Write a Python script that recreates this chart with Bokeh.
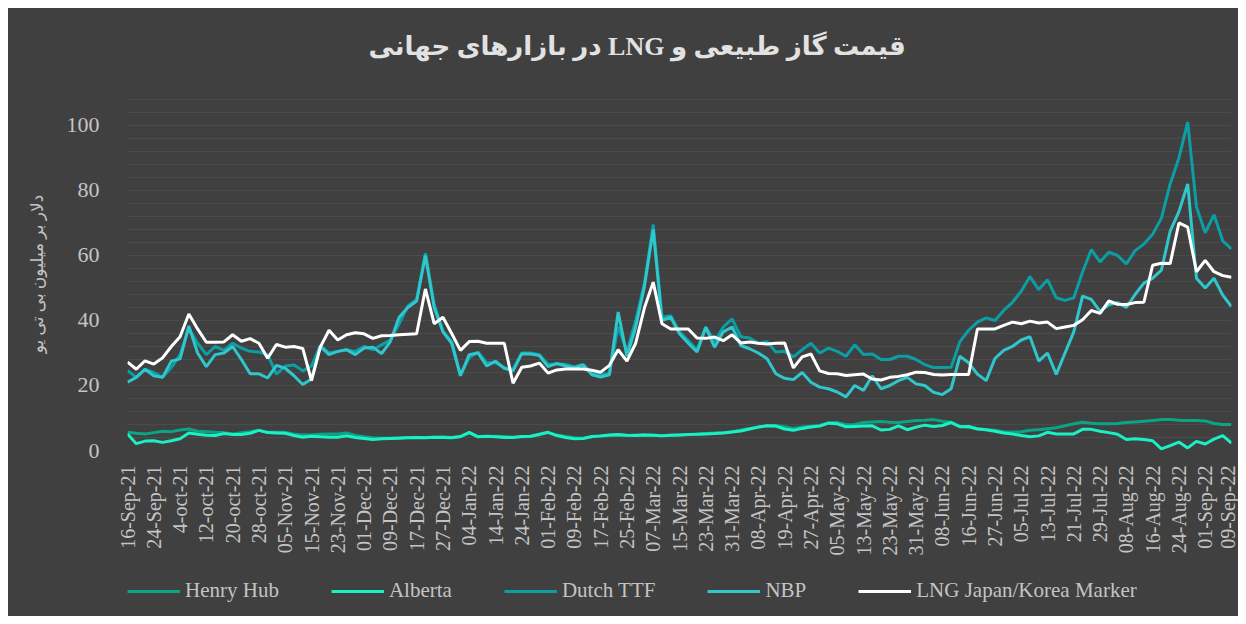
import math
from bokeh.plotting import figure
from bokeh.models import Range1d, FixedTicker, Legend, LegendItem, Title, Spacer
from bokeh.layouts import column, row
from bokeh.embed import file_html
from bokeh.resources import INLINE

# ---- data (one sample every 2 trading days; a tick label every 3 samples) ----
tick_labels = ["16-Sep-21", "24-Sep-21", "4-oct-21", "12-oct-21", "20-oct-21", "28-oct-21",
               "05-Nov-21", "15-Nov-21", "23-Nov-21", "01-Dec-21", "09-Dec-21", "17-Dec-21",
               "27-Dec-21", "04-Jan-22", "14-Jan-22", "24-Jan-22", "01-Feb-22", "09-Feb-22",
               "17-Feb-22", "25-Feb-22", "07-Mar-22", "15-Mar-22", "23-Mar-22", "31-Mar-22",
               "08-Apr-22", "19-Apr-22", "27-Apr-22", "05-May-22", "13-May-22", "23-May-22",
               "31-May-22", "08-Jun-22", "16-Jun-22", "27-Jun-22", "05-Jul-22", "13-Jul-22",
               "21-Jul-22", "29-Jul-22", "08-Aug-22", "16-Aug-22", "24-Aug-22", "01-Sep-22",
               "09-Sep-22"]

henry_hub = [5.6, 5.3, 5.1, 5.5, 5.9, 5.8, 6.3, 6.6, 5.9, 5.8, 5.6, 5.5, 5.1, 5.5, 5.8,
             6.2, 5.6, 5.6, 5.6, 5.0, 4.8, 4.8, 5.0, 5.1, 5.1, 5.4, 4.6, 4.2, 3.9, 3.8,
             3.8, 3.9, 4.0, 4.0, 4.0, 4.1, 4.2, 4.0, 4.2, 5.4, 4.3, 4.3, 4.4, 4.3, 4.1,
             4.2, 4.3, 4.8, 5.5, 4.8, 4.3, 3.9, 3.8, 4.2, 4.4, 4.6, 4.7, 4.6, 4.8, 4.8,
             4.7, 4.6, 4.7, 4.8, 4.9, 5.0, 5.2, 5.4, 5.5, 5.8, 6.3, 6.8, 7.2, 7.6, 7.7,
             7.3, 6.8, 7.2, 7.5, 7.8, 8.5, 8.6, 7.9, 8.0, 8.6, 8.8, 8.9, 8.7, 8.6, 8.9,
             9.2, 9.3, 9.5, 9.0, 8.7, 7.5, 7.2, 6.8, 6.4, 6.2, 5.8, 5.6, 5.8, 6.2, 6.4,
             6.7, 7.0, 7.6, 8.2, 8.7, 8.4, 8.2, 8.2, 8.3, 8.6, 8.8, 9.0, 9.2, 9.5, 9.5,
             9.3, 9.2, 9.2, 9.1, 8.3, 8.0, 8.0]

alberta = [5.1, 2.1, 2.9, 3.0, 2.5, 3.0, 3.6, 5.4, 5.0, 4.7, 4.6, 5.2, 4.9, 4.9, 5.3,
           6.2, 5.5, 5.4, 5.3, 4.6, 4.1, 4.4, 4.2, 4.1, 4.1, 4.5, 4.0, 3.7, 3.4, 3.6,
           3.7, 3.8, 3.9, 4.0, 3.9, 4.1, 4.0, 3.9, 4.3, 5.6, 4.2, 4.4, 4.2, 4.0, 4.0,
           4.3, 4.4, 5.0, 5.6, 4.6, 4.0, 3.6, 3.7, 4.3, 4.5, 4.8, 4.9, 4.7, 4.6, 4.8,
           4.7, 4.5, 4.7, 4.8, 4.9, 5.0, 5.1, 5.2, 5.4, 5.7, 6.0, 6.6, 7.2, 7.6, 7.5,
           6.6, 6.2, 6.8, 7.2, 7.5, 8.4, 8.2, 7.3, 7.4, 7.5, 7.6, 6.3, 6.5, 7.6, 6.4,
           7.2, 7.8, 7.4, 7.7, 8.6, 7.3, 7.4, 6.6, 6.4, 5.9, 5.4, 5.1, 4.6, 4.2, 4.5,
           5.6, 5.1, 5.1, 5.1, 6.5, 6.5, 5.9, 5.5, 5.0, 3.4, 3.6, 3.4, 3.0, 0.5, 1.5,
           2.6, 0.8, 2.8, 2.0, 3.5, 4.6, 2.3]

dutch_ttf = [24.6, 22.5, 25.0, 24.0, 22.5, 25.5, 29.5, 37.5, 33.0, 29.5, 32.0, 30.8,
             33.0, 31.5, 30.5, 30.3, 29.5, 23.5, 26.0, 26.3, 24.5, 26.0, 32.3, 30.0,
             30.5, 31.0, 30.5, 32.0, 31.0, 32.5, 34.0, 39.0, 44.5, 46.5, 60.7, 45.0,
             36.8, 33.5, 23.3, 28.5, 30.3, 27.0, 27.0, 25.5, 25.0, 30.0, 30.0, 29.5,
             26.5, 26.5, 26.5, 25.8, 26.5, 23.8, 23.4, 23.8, 38.0, 30.5, 40.0, 51.5,
             69.5, 41.0, 41.5, 36.5, 33.8, 31.0, 38.0, 33.5, 38.0, 40.5, 35.0, 34.6,
             33.0, 33.5, 30.3, 30.5, 28.8, 31.0, 33.0, 30.0, 31.5, 30.5, 29.0, 32.5,
             29.5, 29.7, 28.0, 28.0, 29.0, 29.0, 28.0, 26.4, 25.5, 25.5, 25.6, 33.5,
             37.0, 39.5, 40.8, 40.0, 43.1, 45.6, 49.0, 53.5, 49.5, 52.5, 47.0, 46.2,
             47.0, 54.9, 61.8, 58.0, 61.0, 60.0, 57.4, 61.5, 63.5, 66.5, 71.5, 82.0,
             90.0, 101.0, 75.0, 67.0, 72.5, 64.5, 62.0]

nbp = [21.0, 22.5, 25.0, 23.0, 22.5, 27.5, 28.2, 38.3, 30.0, 25.8, 29.5, 30.0,
       32.0, 28.0, 23.6, 23.6, 22.3, 26.2, 25.3, 23.0, 20.3, 22.0, 32.0, 29.5,
       30.5, 31.0, 29.5, 31.5, 31.8, 29.8, 33.5, 41.0, 44.0, 46.0, 60.0, 44.0,
       36.5, 33.0, 23.0, 29.5, 30.0, 26.0, 27.5, 25.3, 24.5, 29.8, 29.7, 29.2,
       25.8, 26.8, 26.0, 25.4, 26.3, 23.3, 22.6, 23.3, 42.6, 29.0, 38.0, 50.5,
       68.0, 40.0, 41.0, 35.9, 33.0, 30.3, 37.9, 31.8, 36.5, 38.0, 32.3, 31.3,
       30.0, 28.2, 23.6, 22.2, 21.8, 24.0, 21.0, 19.5, 19.0, 18.0, 16.5, 20.0,
       18.5, 23.0, 19.0, 20.0, 21.5, 22.5, 20.5, 20.0, 17.9, 17.2, 19.0, 29.0,
       27.0, 23.5, 21.5, 28.3, 30.8, 32.0, 34.0, 35.0, 27.5, 30.0, 23.4, 30.0,
       36.5, 47.5, 46.5, 42.8, 44.8, 45.5, 44.0, 48.0, 51.5, 53.0, 55.5, 67.5,
       73.5, 82.0, 53.0, 50.0, 53.0, 47.8, 44.3]

lng_jkm = [27.2, 25.0, 27.6, 26.6, 28.5, 32.0, 35.0, 42.0, 37.4, 33.3, 33.3, 33.4,
           35.6, 33.6, 34.4, 33.0, 28.4, 32.6, 31.8, 32.0, 31.4, 21.5, 31.8, 37.0,
           34.0, 35.6, 36.2, 35.9, 34.5, 35.3, 35.4, 35.6, 35.8, 35.9, 49.7, 39.0,
           41.0, 36.0, 30.8, 33.5, 33.6, 33.0, 33.0, 33.0, 20.7, 25.6, 26.0, 26.9,
           23.8, 24.8, 25.1, 25.1, 25.1, 24.7, 24.1, 26.2, 31.0, 27.5, 33.0, 43.9,
           51.8, 39.0, 37.4, 37.4, 37.4, 34.6, 34.5, 34.9, 33.8, 35.6, 33.1, 33.4,
           33.0, 32.8, 33.0, 33.1, 25.4, 28.8, 29.7, 24.5, 23.7, 23.6, 23.1, 23.3,
           23.5, 22.0, 21.7, 22.5, 22.8, 23.3, 24.1, 24.0, 23.4, 23.2, 23.4, 23.4,
           23.4, 37.4, 37.4, 37.4, 38.5, 39.5, 39.0, 39.8, 39.2, 39.5, 37.5, 38.0,
           38.5, 40.2, 43.1, 42.2, 46.0, 45.0, 44.9, 45.5, 45.6, 57.0, 57.6, 57.5,
           70.0, 68.7, 55.0, 58.5, 55.0, 53.8, 53.3]

series_names = ["Henry Hub", "Alberta", "Dutch TTF", "NBP", "LNG Japan/Korea Marker"]
series_values = [henry_hub, alberta, dutch_ttf, nbp, lng_jkm]
series_colors = ["#0aa586", "#19f0c4", "#0b9ea4", "#2fc6cc", "#ffffff"]

samples_per_label = 3
x = list(range(len(lng_jkm)))

BG = "#404040"
TXT = "#c4c4c4"
SERIF = "Liberation Serif, DejaVu Serif, DejaVu Sans"

p = figure(width=1230, height=556, output_backend="svg", toolbar_location=None,
           x_range=Range1d(0, len(x) - 1), y_range=Range1d(0, 108.6),
           background_fill_color=BG, border_fill_color=BG, outline_line_color=None,
           min_border_left=119, min_border_right=7, min_border_top=89, min_border_bottom=114,
           styles={"background-color": BG})

for name, vals, col in zip(series_names, series_values, series_colors):
    p.line(x, vals, line_color=col, line_width=3)

# grid
p.xgrid.visible = False
p.ygrid.ticker = FixedTicker(ticks=list(range(0, 109, 4)))
p.ygrid.grid_line_color = "#4b4b4b"
p.ygrid.grid_line_width = 1

# y axis
p.yaxis.ticker = FixedTicker(ticks=[0, 20, 40, 60, 80, 100])
p.yaxis.axis_line_color = None
p.yaxis.major_tick_line_color = None
p.yaxis.minor_tick_line_color = None
p.yaxis.major_label_standoff = 22
p.yaxis.major_label_text_font = SERIF
p.yaxis.major_label_text_font_size = "22px"
p.yaxis.major_label_text_color = TXT
p.yaxis.axis_label = "دلار بر میلیون بی تی یو"
p.yaxis.axis_label_text_font = SERIF
p.yaxis.axis_label_text_font_size = "17px"
p.yaxis.axis_label_text_font_style = "normal"
p.yaxis.axis_label_text_color = TXT
p.yaxis.axis_label_standoff = 17

# x axis
tick_pos = [i * samples_per_label for i in range(len(tick_labels))]
p.xaxis.ticker = FixedTicker(ticks=tick_pos)
p.xaxis.major_label_overrides = {t: lab for t, lab in zip(tick_pos, tick_labels)}
p.xaxis.major_label_orientation = math.pi / 2
p.xaxis.axis_line_color = None
p.xaxis.major_tick_line_color = None
p.xaxis.minor_tick_line_color = None
p.xaxis.major_label_standoff = 9
p.xaxis.major_label_text_font = SERIF
p.xaxis.major_label_text_font_size = "20px"
p.xaxis.major_label_text_color = TXT

# title (a blank spacer title sits between the plot and the main title)
p.add_layout(Title(text=" ", text_font_size="18px"), "above")
p.add_layout(Title(text="\u202bقیمت گاز طبیعی و LNG در بازارهای جهانی\u202c",
                   align="left", offset=241,
                   text_font=SERIF, text_font_size="26px", text_font_style="bold",
                   text_color="#e2e2e2"), "above")

# legend strip (its own small figure under the chart; its frame lines up with the chart's)
leg = figure(width=1230, height=52, output_backend="svg", toolbar_location=None,
             x_range=Range1d(2, 3), y_range=Range1d(2, 3),
             x_axis_location=None, y_axis_location=None,
             background_fill_color=BG, border_fill_color=BG, outline_line_color=None,
             min_border=0, min_border_left=0, min_border_right=0,
             min_border_top=0, min_border_bottom=0,
             styles={"background-color": BG})
leg.xgrid.grid_line_color = None
leg.ygrid.grid_line_color = None
leg_renderers = [leg.line([math.nan], [math.nan], line_color=c, line_width=3) for c in series_colors]
legend = Legend(items=[LegendItem(label=n, renderers=[r]) for n, r in zip(series_names, leg_renderers)],
                orientation="horizontal", location=(0, 13),
                glyph_width=53, glyph_height=20, label_standoff=5, spacing=52,
                padding=0, margin=0, border_line_color=None, background_fill_alpha=0,
                label_text_font=SERIF, label_text_font_size="21px",
                label_text_color=TXT, label_height=20)
leg.add_layout(legend)

inner = column(p, leg, spacing=0, styles={"background-color": BG})
layout = column(Spacer(height=8),
                row(Spacer(width=8), inner, spacing=0),
                spacing=0)

open("out.html", "w").write(file_html(layout, INLINE))
